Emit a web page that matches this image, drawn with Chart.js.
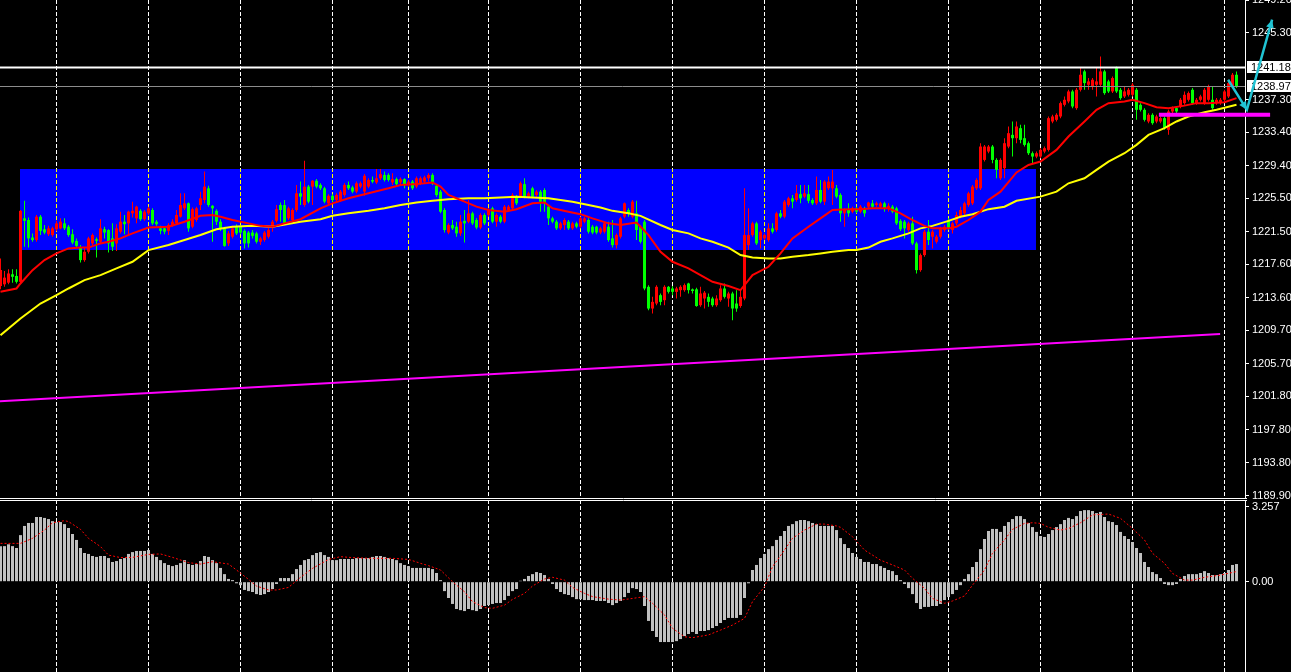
<!DOCTYPE html>
<html>
<head>
<meta charset="utf-8">
<script src="https://cdn.jsdelivr.net/npm/chart.js@4.4.1/dist/chart.umd.min.js"></script>
<style>
  html, body { margin: 0; padding: 0; background: #000; overflow: hidden; }
  #wrap { position: relative; width: 1291px; height: 672px; }
  canvas { position: absolute; left: 0; }
  #main { top: 0; }
  #macd { top: 500px; }
</style>
</head>
<body>
<div id="wrap">
  <canvas id="main" width="1291" height="500"></canvas>
  <canvas id="macd" width="1291" height="172"></canvas>
</div>
<script>
// ---- price data, one entry per bar (oldest first) ----
const open = [
  1215.0,1215.2,1215.4,1216.4,1216.2,1215.5,1223.1,1222.9,1220.8,1220.5,
  1223.3,1221.8,1221.2,1221.1,1221.8,1221.9,1222.5,1222.1,1221.2,1220.4,
  1219.6,1218.1,1219.1,1220.1,1220.6,1220.3,1221.8,1221.7,1220.7,1220.1,
  1221.5,1222.7,1222.5,1223.7,1223.1,1224.0,1223.0,1223.7,1224.1,1222.7,
  1221.9,1221.9,1221.6,1222.3,1222.5,1223.3,1224.3,1224.9,1222.1,1222.9,
  1224.7,1225.3,1226.7,1224.6,1224.0,1222.7,1221.9,1220.1,1220.9,1222.1,
  1222.1,1221.6,1221.4,1221.4,1221.3,1220.3,1220.5,1220.9,1222.1,1222.8,
  1224.7,1224.7,1223.1,1222.9,1224.1,1226.1,1224.7,1226.9,1226.9,1227.6,
  1227.1,1226.7,1224.9,1225.8,1225.3,1225.3,1225.9,1227.1,1226.8,1226.3,
  1226.9,1226.3,1226.9,1227.7,1227.4,1227.9,1228.3,1228.3,1227.4,1227.8,
  1227.4,1227.8,1227.1,1227.5,1226.9,1227.3,1227.5,1227.9,1228.3,1227.0,
  1226.3,1224.1,1221.4,1222.3,1222.1,1221.3,1222.8,1222.7,1223.7,1222.9,
  1222.0,1223.5,1223.5,1224.3,1222.7,1223.3,1222.7,1224.1,1224.3,1225.7,
  1225.7,1227.2,1225.7,1226.7,1225.9,1226.3,1226.5,1224.5,1223.1,1222.7,
  1221.9,1222.3,1222.7,1221.9,1222.5,1222.1,1222.7,1222.9,1222.1,1222.1,
  1221.4,1221.5,1222.1,1220.7,1219.9,1220.9,1223.3,1224.1,1223.3,1223.7,
  1222.1,1222.7,1214.9,1212.3,1212.9,1213.9,1213.3,1214.9,1214.7,1214.3,
  1214.5,1214.5,1215.3,1214.6,1214.6,1212.7,1213.5,1213.7,1213.5,1212.7,
  1213.3,1214.7,1213.5,1214.1,1212.9,1212.6,1213.5,1219.9,1221.1,1222.5,
  1220.5,1220.7,1220.5,1221.9,1221.7,1223.7,1223.3,1224.7,1225.5,1225.3,
  1226.0,1225.7,1226.0,1225.3,1224.9,1226.5,1225.1,1226.7,1226.7,1226.7,
  1225.9,1223.7,1224.1,1223.9,1224.3,1223.9,1224.3,1224.5,1224.9,1224.7,
  1224.5,1224.9,1224.3,1224.5,1224.3,1222.8,1222.7,1221.7,1222.5,1220.1,
  1216.9,1218.7,1221.5,1220.9,1220.3,1220.9,1221.7,1222.9,1221.7,1222.5,
  1223.3,1223.7,1224.7,1224.9,1226.7,1226.7,1230.1,1231.1,1231.7,1230.1,
  1227.9,1229.1,1231.7,1233.1,1232.7,1233.9,1232.7,1232.1,1230.9,1230.5,
  1230.5,1231.1,1231.3,1234.7,1234.9,1235.3,1236.7,1237.1,1238.3,1236.3,
  1238.5,1240.7,1239.1,1238.9,1239.1,1239.1,1240.7,1239.5,1238.3,1241.1,
  1238.5,1237.7,1237.9,1237.9,1238.5,1236.7,1236.1,1234.7,1235.5,1234.7,
  1234.7,1235.1,1233.7,1235.9,1236.3,1236.5,1236.9,1237.3,1238.5,1236.9,
  1237.3,1236.9,1237.3,1237.3,1236.9,1236.9,1237.3,1237.7,1238.9,1240.3
];
const high = [
  1218.3,1216.8,1217.0,1217.0,1217.0,1224.1,1225.2,1223.2,1221.3,1223.5,
  1223.5,1222.3,1222.2,1222.1,1222.8,1223.1,1223.1,1222.3,1221.8,1220.7,
  1219.9,1219.6,1220.9,1221.3,1220.8,1223.0,1222.1,1221.8,1222.5,1222.4,
  1223.9,1223.5,1224.0,1225.1,1224.6,1224.2,1224.1,1224.5,1224.3,1222.9,
  1222.2,1222.0,1222.5,1223.0,1224.1,1226.1,1226.1,1225.0,1224.4,1224.5,
  1226.3,1228.7,1227.0,1224.7,1224.2,1223.0,1222.1,1221.6,1222.2,1222.4,
  1222.3,1221.8,1221.6,1221.7,1221.5,1220.9,1221.6,1221.9,1222.9,1224.7,
  1225.0,1225.3,1224.5,1224.3,1227.1,1227.5,1230.0,1227.1,1227.7,1227.8,
  1227.3,1226.9,1226.0,1226.0,1226.1,1226.5,1227.3,1227.5,1227.0,1227.5,
  1227.5,1228.4,1227.9,1228.1,1229.0,1229.0,1228.7,1228.5,1228.5,1228.0,
  1228.0,1227.9,1227.7,1227.7,1228.1,1228.1,1228.2,1228.5,1228.5,1227.2,
  1226.5,1224.3,1222.5,1222.9,1222.7,1223.5,1224.1,1225.3,1223.9,1223.1,
  1223.7,1223.7,1224.3,1224.5,1223.7,1223.5,1224.7,1224.7,1226.1,1225.9,
  1227.5,1227.9,1226.3,1226.9,1226.5,1226.5,1226.7,1224.7,1223.3,1222.9,
  1222.7,1223.1,1222.9,1222.7,1222.7,1223.3,1223.3,1223.1,1222.3,1222.2,
  1222.1,1222.7,1222.7,1222.9,1221.3,1223.3,1225.0,1224.3,1225.3,1225.2,
  1222.3,1222.9,1215.1,1213.7,1215.1,1214.1,1215.1,1215.0,1215.0,1214.9,
  1215.1,1215.3,1215.4,1214.7,1214.8,1214.9,1214.4,1214.1,1213.7,1213.9,
  1215.1,1215.3,1214.3,1214.3,1214.5,1214.5,1226.7,1224.3,1222.7,1222.7,
  1221.7,1221.3,1222.5,1222.5,1223.9,1224.1,1225.3,1225.7,1225.9,1227.1,
  1227.1,1227.1,1227.1,1225.5,1228.1,1227.7,1227.7,1228.1,1228.9,1227.1,
  1226.1,1224.3,1224.9,1224.5,1224.5,1224.7,1224.5,1225.1,1225.3,1225.1,
  1225.1,1225.1,1224.9,1224.7,1224.5,1223.0,1222.9,1222.7,1223.3,1220.3,
  1218.9,1221.7,1222.9,1221.7,1221.1,1222.1,1222.3,1223.1,1222.7,1223.9,
  1224.5,1225.1,1226.3,1227.1,1227.9,1232.1,1231.9,1231.9,1231.9,1230.3,
  1230.3,1232.7,1234.1,1234.7,1234.7,1234.3,1234.3,1232.3,1231.1,1231.1,
  1231.5,1231.7,1235.3,1235.5,1235.7,1237.1,1237.7,1238.5,1238.5,1238.7,
  1241.1,1240.9,1239.9,1239.9,1241.1,1242.5,1240.9,1239.7,1240.1,1241.3,
  1238.7,1238.9,1238.7,1239.3,1238.7,1236.9,1236.3,1235.7,1235.7,1235.5,
  1235.3,1235.3,1236.1,1236.5,1236.5,1237.5,1238.3,1238.3,1238.7,1237.5,
  1237.9,1238.7,1239.1,1238.9,1237.5,1237.5,1238.5,1239.5,1240.5,1240.7
];
const low = [
  1214.6,1214.9,1215.2,1215.4,1215.3,1215.2,1219.7,1219.6,1220.3,1220.3,
  1221.1,1221.2,1221.0,1220.9,1221.6,1221.8,1221.7,1220.9,1220.0,1219.6,
  1217.8,1217.9,1218.9,1219.9,1218.4,1220.1,1220.7,1219.0,1219.2,1219.2,
  1221.3,1221.2,1221.1,1223.2,1222.5,1222.8,1222.8,1223.5,1222.3,1222.2,
  1221.2,1221.2,1221.1,1222.1,1222.3,1223.2,1224.1,1221.5,1221.9,1222.7,
  1224.1,1224.9,1224.5,1220.3,1222.3,1221.6,1219.7,1219.8,1220.7,1221.1,
  1221.2,1219.5,1219.6,1220.7,1220.1,1219.9,1220.3,1220.7,1221.5,1222.6,
  1222.7,1222.3,1222.9,1222.7,1223.9,1224.7,1224.5,1224.9,1224.7,1226.7,
  1226.5,1224.9,1224.7,1225.1,1225.0,1225.1,1225.7,1226.5,1226.1,1226.1,
  1226.7,1225.8,1226.7,1227.3,1227.2,1227.7,1227.5,1227.5,1227.1,1227.0,
  1227.2,1226.7,1226.9,1226.5,1226.7,1227.1,1227.3,1227.5,1227.1,1225.7,
  1223.7,1221.4,1221.2,1221.7,1220.9,1221.0,1220.2,1222.5,1222.3,1221.8,
  1221.8,1222.3,1223.3,1222.5,1222.1,1222.5,1222.5,1223.9,1224.1,1224.7,
  1225.5,1225.5,1225.5,1225.5,1225.7,1223.9,1223.9,1222.3,1222.5,1221.7,
  1221.7,1221.7,1221.7,1221.7,1221.9,1221.9,1222.5,1221.3,1221.2,1221.2,
  1221.2,1221.3,1220.3,1219.6,1219.5,1220.7,1223.1,1223.3,1223.1,1220.5,
  1220.1,1214.5,1212.1,1211.7,1212.7,1212.7,1212.7,1214.1,1213.9,1213.5,
  1213.7,1214.3,1214.1,1214.1,1212.5,1212.5,1212.3,1212.5,1212.5,1212.5,
  1213.1,1213.5,1212.5,1210.9,1211.9,1212.4,1213.3,1219.3,1220.9,1219.9,
  1219.5,1220.5,1220.3,1221.3,1221.5,1223.1,1223.1,1224.5,1224.3,1225.1,
  1224.9,1225.5,1224.9,1224.7,1224.7,1224.9,1224.7,1226.5,1224.7,1225.5,
  1222.7,1222.1,1223.3,1223.7,1223.7,1223.7,1223.3,1224.3,1224.3,1224.5,
  1224.3,1223.9,1223.9,1223.7,1222.3,1221.6,1220.7,1221.5,1219.9,1216.5,
  1216.7,1218.5,1219.9,1219.5,1220.1,1220.7,1221.5,1221.7,1221.3,1222.3,
  1223.1,1223.5,1224.5,1224.7,1226.5,1226.5,1229.9,1230.9,1229.7,1227.9,
  1227.7,1227.9,1231.5,1230.5,1232.1,1232.1,1231.7,1230.7,1229.7,1230.3,
  1230.3,1230.9,1231.1,1234.5,1234.7,1235.1,1236.5,1236.9,1236.3,1236.1,
  1238.3,1238.5,1238.5,1238.5,1237.7,1238.9,1237.9,1238.1,1238.1,1238.1,
  1237.3,1237.5,1237.7,1237.7,1234.9,1235.9,1234.7,1234.5,1234.3,1234.5,
  1234.5,1233.7,1233.1,1235.7,1235.7,1236.3,1236.7,1237.1,1236.7,1236.7,
  1237.1,1236.7,1237.1,1236.1,1236.7,1236.7,1237.1,1237.5,1238.7,1238.7
];
const close = [
  1216.9,1216.0,1216.5,1216.1,1215.5,1224.0,1222.8,1220.7,1220.5,1223.3,
  1221.6,1221.4,1221.9,1221.9,1222.5,1222.7,1221.9,1221.1,1220.2,1219.8,
  1218.1,1219.1,1220.7,1221.1,1220.4,1221.9,1221.4,1220.1,1219.7,1221.9,
  1222.7,1222.4,1223.9,1224.0,1224.5,1223.0,1223.9,1224.3,1222.5,1222.4,
  1221.6,1221.5,1222.3,1222.7,1223.5,1224.7,1224.9,1221.9,1224.2,1224.3,
  1225.5,1226.9,1224.7,1224.3,1222.7,1221.9,1219.8,1221.3,1221.9,1221.3,
  1221.4,1220.1,1220.1,1221.0,1220.3,1220.7,1221.4,1221.7,1222.7,1224.2,
  1224.1,1222.5,1224.3,1224.1,1226.1,1225.7,1226.9,1225.1,1227.6,1226.9,
  1226.7,1225.1,1225.8,1225.3,1225.9,1226.3,1227.1,1226.7,1226.3,1227.3,
  1227.3,1228.2,1227.7,1227.5,1227.9,1228.4,1227.7,1227.7,1227.8,1227.2,
  1227.8,1227.1,1227.5,1226.7,1227.9,1227.9,1228.0,1228.3,1227.3,1225.9,
  1223.9,1221.7,1222.3,1221.9,1221.3,1222.7,1222.5,1223.7,1222.5,1222.0,
  1223.5,1222.5,1224.1,1222.7,1223.5,1222.7,1224.5,1224.5,1225.9,1224.9,
  1227.3,1225.7,1226.1,1225.7,1226.3,1225.1,1224.9,1223.1,1222.7,1221.9,
  1222.5,1222.9,1221.9,1222.5,1222.1,1223.1,1223.1,1221.5,1221.4,1221.4,
  1221.9,1222.5,1220.5,1219.9,1221.1,1223.1,1224.9,1223.7,1225.1,1221.7,
  1220.3,1214.7,1212.3,1213.1,1214.9,1213.1,1214.9,1214.3,1214.3,1214.7,
  1214.9,1215.1,1214.5,1214.4,1212.6,1214.1,1214.2,1213.1,1212.7,1213.5,
  1214.7,1213.7,1214.1,1212.3,1212.3,1213.7,1221.1,1221.1,1222.5,1220.1,
  1221.5,1221.1,1221.9,1221.5,1223.7,1223.3,1225.1,1225.5,1225.1,1226.1,
  1225.5,1226.1,1225.2,1224.9,1226.5,1225.1,1227.5,1227.5,1227.5,1225.7,
  1223.7,1224.1,1223.7,1224.3,1223.9,1224.5,1223.7,1225.0,1224.5,1224.9,
  1224.9,1224.3,1224.6,1223.9,1222.5,1221.8,1221.9,1222.5,1220.1,1216.9,
  1218.7,1221.5,1220.5,1221.5,1220.9,1221.9,1222.1,1221.9,1222.5,1223.5,
  1224.1,1224.9,1226.1,1226.9,1227.7,1231.7,1231.7,1231.7,1230.1,1228.9,
  1230.1,1232.1,1233.3,1232.7,1234.1,1232.5,1231.9,1230.9,1230.5,1230.9,
  1231.3,1231.5,1235.1,1235.3,1235.5,1236.9,1237.3,1238.3,1236.5,1238.5,
  1240.3,1239.3,1239.5,1239.7,1239.5,1240.7,1238.1,1238.3,1239.9,1238.3,
  1237.5,1238.3,1238.5,1239.1,1236.1,1236.1,1234.9,1235.5,1234.5,1235.3,
  1235.1,1233.9,1235.9,1236.3,1235.9,1237.3,1237.9,1238.1,1236.9,1237.3,
  1237.7,1238.5,1238.9,1236.3,1237.3,1237.3,1238.3,1239.3,1240.3,1238.9
];

// moving averages, read at selected bars
const redMaBars = [0,4,5,8,11,14,17,20,22,25,27,30,33,37,42,46,50,53,55,58,62,65,68,71,75,80,83,87,92,97,
  100,104,108,110,112,116,119,122,126,129,133,136,138,142,145,148,152,155,159,160,162,165,168,172,175,178,182,185,186,188,
  192,195,198,202,205,208,212,215,218,222,225,228,231,233,237,239,242,245,247,250,254,257,260,264,267,271,274,277,281,283,
  286,289,292,296,299,302,306,309];
const redMa = [1214.3,1214.7,1215.3,1216.9,1218.1,1218.9,1219.5,1219.6,1219.6,1220.1,1220.3,1220.7,1221.3,1222.0,1222.1,1222.7,1223.4,1223.5,1223.3,1222.9,
  1222.5,1222.2,1222.1,1222.5,1223.0,1224.3,1224.9,1225.5,1226.1,1226.7,1227.1,1227.2,1227.4,1226.9,1225.9,1225.1,1224.5,1224.1,1223.9,1224.2,
  1224.9,1225.0,1224.3,1223.9,1223.6,1223.1,1222.5,1222.3,1222.6,1222.1,1221.1,1219.1,1217.9,1217.1,1216.3,1215.5,1215.0,1214.5,1215.1,1216.3,
  1217.3,1218.9,1220.7,1222.1,1223.1,1224.1,1224.2,1224.2,1224.3,1224.3,1223.7,1222.9,1222.2,1221.9,1221.9,1222.1,1222.9,1223.9,1225.3,1226.3,
  1228.6,1229.5,1229.9,1231.3,1232.9,1234.7,1236.1,1236.9,1237.1,1237.3,1236.9,1236.4,1236.3,1236.6,1236.9,1236.9,1237.0,1237.5];
const yellowMaBars = [0,5,10,14,17,21,25,29,33,37,42,46,50,54,58,63,68,75,80,83,87,92,96,100,104,108,112,117,121,125,
  129,133,137,140,143,147,150,153,157,160,165,168,172,175,178,182,185,188,192,195,198,202,205,208,212,214,217,220,223,227,
  230,233,237,240,243,247,251,254,260,264,267,271,274,277,281,284,287,291,294,297,301,304,309];
const yellowMa = [1209.1,1211.1,1212.9,1213.9,1214.7,1215.7,1216.3,1217.1,1217.9,1219.3,1219.9,1220.5,1221.1,1221.8,1222.1,1222.2,1222.1,1222.7,1223.0,1223.4,
  1223.7,1224.0,1224.3,1224.7,1225.0,1225.2,1225.4,1225.5,1225.5,1225.6,1225.7,1225.6,1225.5,1225.3,1225.1,1224.7,1224.4,1224.0,1223.7,1223.4,
  1222.3,1221.7,1221.3,1220.7,1220.3,1219.6,1218.7,1218.4,1218.3,1218.3,1218.5,1218.7,1218.9,1219.1,1219.3,1219.3,1219.6,1220.3,1220.7,1221.3,
  1221.9,1222.2,1222.8,1223.3,1223.6,1224.2,1224.5,1225.2,1225.7,1226.3,1227.3,1227.9,1228.9,1229.9,1230.9,1231.9,1233.1,1233.9,1234.7,1235.3,
  1235.8,1236.1,1236.7];

// MACD histogram (one per bar) and signal line (selected bars)
const macdHist = [
  1.55,1.55,1.63,1.55,1.47,2.03,2.43,2.56,2.56,2.82,
  2.82,2.78,2.73,2.64,2.60,2.60,2.51,2.34,2.08,1.82,
  1.47,1.25,1.21,1.12,1.08,1.12,1.12,1.03,0.86,0.90,
  0.99,1.03,1.21,1.29,1.34,1.34,1.34,1.38,1.21,1.08,
  0.94,0.81,0.73,0.68,0.73,0.81,0.94,0.77,0.73,0.77,
  0.90,1.12,1.08,0.94,0.81,0.60,0.33,0.12,0.07,-0.07,
  -0.15,-0.36,-0.41,-0.45,-0.54,-0.58,-0.54,-0.45,-0.32,-0.10,
  0.16,0.16,0.16,0.33,0.55,0.73,0.94,0.99,1.16,1.25,
  1.29,1.16,1.08,0.94,0.94,0.99,0.99,0.99,0.99,1.03,
  1.03,1.03,1.03,1.08,1.12,1.12,1.08,1.03,0.99,0.94,
  0.81,0.73,0.68,0.60,0.60,0.60,0.60,0.60,0.55,0.38,
  0.07,-0.41,-0.71,-0.97,-1.19,-1.24,-1.28,-1.19,-1.24,-1.28,
  -1.19,-1.06,-1.02,-0.97,-0.93,-0.93,-0.80,-0.62,-0.41,-0.32,
  0.04,0.12,0.25,0.33,0.42,0.38,0.29,0.12,-0.10,-0.32,
  -0.45,-0.54,-0.58,-0.67,-0.76,-0.76,-0.80,-0.80,-0.80,-0.84,
  -0.84,-0.84,-0.93,-1.02,-0.93,-0.84,-0.67,-0.49,-0.28,-0.32,
  -0.45,-1.06,-1.71,-2.15,-2.41,-2.63,-2.63,-2.63,-2.63,-2.59,
  -2.50,-2.37,-2.28,-2.19,-2.28,-2.15,-2.15,-2.11,-2.02,-1.93,
  -1.80,-1.67,-1.58,-1.58,-1.58,-1.45,-0.71,-0.07,0.51,0.73,
  1.03,1.21,1.42,1.55,1.82,1.99,2.21,2.43,2.51,2.64,
  2.69,2.69,2.64,2.56,2.51,2.43,2.43,2.43,2.43,2.25,
  1.90,1.64,1.47,1.25,1.08,0.99,0.86,0.86,0.77,0.77,
  0.68,0.60,0.51,0.46,0.29,0.07,-0.10,-0.28,-0.54,-0.93,
  -1.19,-1.10,-1.10,-1.06,-1.06,-0.97,-0.80,-0.67,-0.54,-0.36,
  -0.15,0.12,0.33,0.64,0.86,1.42,1.86,2.21,2.30,2.30,
  2.17,2.43,2.60,2.73,2.86,2.86,2.73,2.56,2.38,2.17,
  1.99,1.95,2.08,2.25,2.38,2.51,2.69,2.78,2.73,2.86,
  3.08,3.12,3.12,3.08,2.99,3.04,2.82,2.64,2.60,2.47,
  2.17,1.99,1.86,1.73,1.47,1.25,0.86,0.64,0.42,0.33,
  0.16,-0.10,-0.15,-0.15,-0.10,0.12,0.25,0.33,0.33,0.33,
  0.38,0.46,0.38,0.29,0.29,0.33,0.38,0.51,0.73,0.77
];
const signalBars = [0,5,8,11,13,16,17,20,22,25,27,30,33,37,40,43,47,50,53,57,59,62,64,67,69,72,75,78,82,85,
  88,92,95,98,102,104,105,107,110,113,116,118,121,123,126,128,131,133,136,138,141,143,146,148,152,155,158,161,163,166,
  168,171,173,177,180,183,186,188,191,193,196,198,201,204,206,209,210,213,216,220,223,226,228,231,233,236,238,241,243,246,
  248,251,253,256,258,260,262,265,267,270,273,277,280,283,286,288,291,293,296,298,301,305,309];
const signal = [1.67,1.67,1.89,2.25,2.57,2.66,2.62,2.28,1.89,1.53,1.16,1.05,1.06,1.19,1.21,1.06,0.83,0.77,0.87,0.77,
  0.51,0.10,-0.19,-0.36,-0.36,-0.25,0.19,0.58,0.97,1.09,1.05,1.02,1.02,1.02,0.97,0.86,0.80,0.70,0.51,0.00,
  -0.44,-0.87,-1.13,-1.16,-1.02,-0.77,-0.51,-0.19,0.12,0.19,0.07,-0.25,-0.51,-0.65,-0.76,-0.80,-0.73,-0.65,-0.94,-1.45,
  -2.03,-2.40,-2.44,-2.32,-2.11,-1.89,-1.60,-0.87,-0.22,0.65,1.38,1.89,2.25,2.51,2.51,2.43,2.37,1.96,1.38,0.94,
  0.73,0.51,0.15,-0.29,-0.73,-0.94,-0.84,-0.62,-0.15,0.51,1.24,1.82,2.28,2.54,2.57,2.54,2.37,2.25,2.32,2.57,
  2.91,2.95,2.76,2.32,1.82,1.24,0.80,0.36,0.07,0.07,0.19,0.29,0.44];

// axis ticks and drawn objects (bar index / price units)
const priceTicks = [1249.20,1245.30,1237.30,1233.40,1229.40,1225.50,1221.50,1217.60,1213.60,1209.70,1205.70,1201.80,1197.80,1193.80,1189.90];
const macdTicks = [3.257, 0];
const gridBars = [14,37,60,83,102,122,145,168,191,214,237,260,283,306];
const zoneBars = [4.9, 258.9];
const zonePrices = [1219.3, 1229.0];
const trendBars = [-0.2, 304.9];
const trendPrices = [1201.2, 1209.25];
const supportBars = [289.6, 317.4];
const supportPrice = 1235.5;
const arrowBars = [306.9, 311.6, 317.9];
const arrowPrices = [1239.7, 1236.1, 1246.9];
const priceLines = [1241.18, 1238.97];

const UP = '#ff0000', DOWN = '#00ff00';
const FONT = {family: "'Liberation Sans Narrow', 'Liberation Sans', Arial, sans-serif", size: 11};
const X_MIN = -0.125, X_MAX = 311.125;

const idx = open.map((_, i) => i);
const candleColor = c => close[c.dataIndex] >= open[c.dataIndex] ? UP : DOWN;

// grid, zone and panel frame drawn through the chart scales
const mtPlugin = {
  id: 'mt',
  beforeDatasetsDraw(chart, args, opts) {
    const {ctx, chartArea: a, scales: {x, y}} = chart;
    ctx.save();
    let zx1, zx2, zy1, zy2;
    if (opts.zone) {
      zx1 = Math.round(x.getPixelForValue(zoneBars[0]));
      zx2 = Math.round(x.getPixelForValue(zoneBars[1]));
      zy1 = Math.round(y.getPixelForValue(zonePrices[1]));
      zy2 = Math.round(y.getPixelForValue(zonePrices[0]));
      ctx.fillStyle = '#0000ff';
      ctx.fillRect(zx1, zy1, zx2 - zx1, zy2 - zy1);
    }
    ctx.lineWidth = 1;
    ctx.setLineDash([4, 2]);
    gridBars.forEach(b => {
      const px = Math.floor(x.getPixelForValue(b)) + 0.5;
      ctx.strokeStyle = '#ffffff';
      ctx.beginPath(); ctx.moveTo(px, a.top); ctx.lineTo(px, a.bottom); ctx.stroke();
      if (opts.zone && px > zx1 && px < zx2) {
        ctx.strokeStyle = '#ffff00';
        ctx.beginPath(); ctx.moveTo(px, a.top); ctx.lineTo(px, a.bottom);
        ctx.save(); ctx.beginPath(); ctx.rect(zx1, zy1, zx2 - zx1, zy2 - zy1); ctx.clip();
        ctx.beginPath(); ctx.moveTo(px, a.top); ctx.lineTo(px, a.bottom); ctx.stroke();
        ctx.restore();
      }
    });
    ctx.restore();
  },
  afterDatasetsDraw(chart, args, opts) {
    if (!opts.lines) return;
    const {ctx, chartArea: a, scales: {y}} = chart;
    ctx.save();
    ctx.lineWidth = 1;
    priceLines.forEach((p, k) => {
      const py = Math.round(y.getPixelForValue(p)) + 0.5;
      ctx.strokeStyle = k === 0 ? '#ffffff' : '#8c8c8c';
      ctx.lineWidth = k === 0 ? 2 : 1;
      ctx.beginPath(); ctx.moveTo(a.left, py); ctx.lineTo(a.right, py); ctx.stroke();
    });
    ctx.restore();
  },
  afterDraw(chart, args, opts) {
    const {ctx, chartArea: a, scales: {x, y}} = chart;
    ctx.save();
    ctx.strokeStyle = '#ffffff';
    ctx.lineWidth = 1;
    const fy = opts.frame === 'bottom' ? Math.round(a.bottom) + 0.5 : Math.round(a.top) + 0.5;
    ctx.beginPath(); ctx.moveTo(0, fy); ctx.lineTo(a.right + 2, fy); ctx.stroke();
    if (opts.lines) {
      // value boxes on the price scale
      ctx.font = `${FONT.size}px ${FONT.family}`;
      ctx.textBaseline = 'middle';
      priceLines.forEach(p => {
        const py = Math.round(y.getPixelForValue(p));
        ctx.fillStyle = '#ffffff';
        ctx.fillRect(a.right + 2, py - 6, 46, 12);
        ctx.fillStyle = '#000000';
        ctx.fillText(p.toFixed(2), a.right + 6, py + 0.5);
      });
      // cyan arrow
      const pts = arrowBars.map((b, k) => [x.getPixelForValue(b), y.getPixelForValue(arrowPrices[k])]);
      ctx.strokeStyle = '#20c4d4';
      ctx.fillStyle = '#20c4d4';
      ctx.lineWidth = 2.5;
      ctx.beginPath();
      ctx.moveTo(pts[0][0], pts[0][1]);
      ctx.lineTo(pts[1][0], pts[1][1]);
      ctx.lineTo(pts[2][0], pts[2][1]);
      ctx.stroke();
      const head = (from, to) => {
        const ang = Math.atan2(to[1] - from[1], to[0] - from[0]);
        const L = 9, W = 0.45;
        ctx.beginPath();
        ctx.moveTo(to[0], to[1]);
        ctx.lineTo(to[0] - L * Math.cos(ang - W), to[1] - L * Math.sin(ang - W));
        ctx.lineTo(to[0] - L * Math.cos(ang + W), to[1] - L * Math.sin(ang + W));
        ctx.closePath();
        ctx.fill();
      };
      head(pts[0], pts[1]);
      head(pts[1], pts[2]);
    }
    ctx.restore();
  }
};

const xScale = (pos) => ({
  type: 'linear', min: X_MIN, max: X_MAX, offset: false, display: false, position: pos
});
const yScale = (min, max, ticks, fmt) => ({
  type: 'linear', position: 'right', min, max, bounds: 'data',
  afterBuildTicks: s => { s.ticks = ticks.map(v => ({value: v})); },
  afterFit: s => { s.width = 46; s.paddingTop = 0; s.paddingBottom = 0; },
  ticks: {color: '#ffffff', font: FONT, padding: 3, autoSkip: false, callback: fmt},
  grid: {display: true, drawOnChartArea: false, drawTicks: true, tickLength: 4, color: '#ffffff'},
  border: {display: true, color: '#ffffff', width: 1}
});

new Chart(document.getElementById('main'), {
  type: 'bar',
  data: {
    datasets: [
      {type: 'line', data: supportBars.map(b => ({x: b, y: supportPrice})), borderColor: '#ff00ff',
       borderWidth: 4, pointRadius: 0, clip: false, order: 0},
      {type: 'line', data: redMaBars.map((b, k) => ({x: b, y: redMa[k]})), borderColor: '#ff0000',
       borderWidth: 2, pointRadius: 0, tension: 0, order: 1},
      {type: 'line', data: yellowMaBars.map((b, k) => ({x: b, y: yellowMa[k]})), borderColor: '#ffff00',
       borderWidth: 2, pointRadius: 0, tension: 0, order: 1},
      {type: 'bar', data: idx.map(i => ({x: i, y: [open[i], close[i]]})), backgroundColor: candleColor,
       barThickness: 3, grouped: false, minBarLength: 1, borderWidth: 0, inflateAmount: 0, order: 2},
      {type: 'bar', data: idx.map(i => ({x: i, y: [low[i], high[i]]})), backgroundColor: candleColor,
       barThickness: 1, grouped: false, minBarLength: 1, borderWidth: 0, inflateAmount: 0, order: 3},
      {type: 'line', data: trendBars.map((b, k) => ({x: b, y: trendPrices[k]})), borderColor: '#ff00ff',
       borderWidth: 2, pointRadius: 0, order: 4}
    ]
  },
  options: {
    responsive: false, animation: false, devicePixelRatio: 1,
    layout: {padding: {left: 0, right: 0, top: 0, bottom: 2}},
    scales: {
      x: xScale('bottom'),
      y: yScale(1189.607, 1249.252, priceTicks, v => Number(v).toFixed(2))
    },
    plugins: {legend: {display: false}, tooltip: {enabled: false},
      mt: {zone: true, lines: true, frame: 'bottom'}}
  },
  plugins: [mtPlugin]
});

new Chart(document.getElementById('macd'), {
  type: 'bar',
  data: {
    datasets: [
      {type: 'line', data: signalBars.map((b, k) => ({x: b, y: signal[k]})), borderColor: '#ff0000',
       borderWidth: 1, borderDash: [2, 2], pointRadius: 0, tension: 0, order: 0},
      {type: 'bar', data: idx.map(i => ({x: i, y: macdHist[i]})), backgroundColor: '#c0c0c0',
       barThickness: 3, grouped: false, borderWidth: 0, inflateAmount: 0, order: 1}
    ]
  },
  options: {
    responsive: false, animation: false, devicePixelRatio: 1,
    layout: {padding: 0},
    scales: {
      x: xScale('top'),
      y: yScale(-3.936, 3.561, macdTicks, v => (v === 0 ? '0.00' : Number(v).toFixed(3)))
    },
    plugins: {legend: {display: false}, tooltip: {enabled: false},
      mt: {zone: false, lines: false, frame: 'top'}}
  },
  plugins: [mtPlugin]
});
</script>
</body>
</html>
